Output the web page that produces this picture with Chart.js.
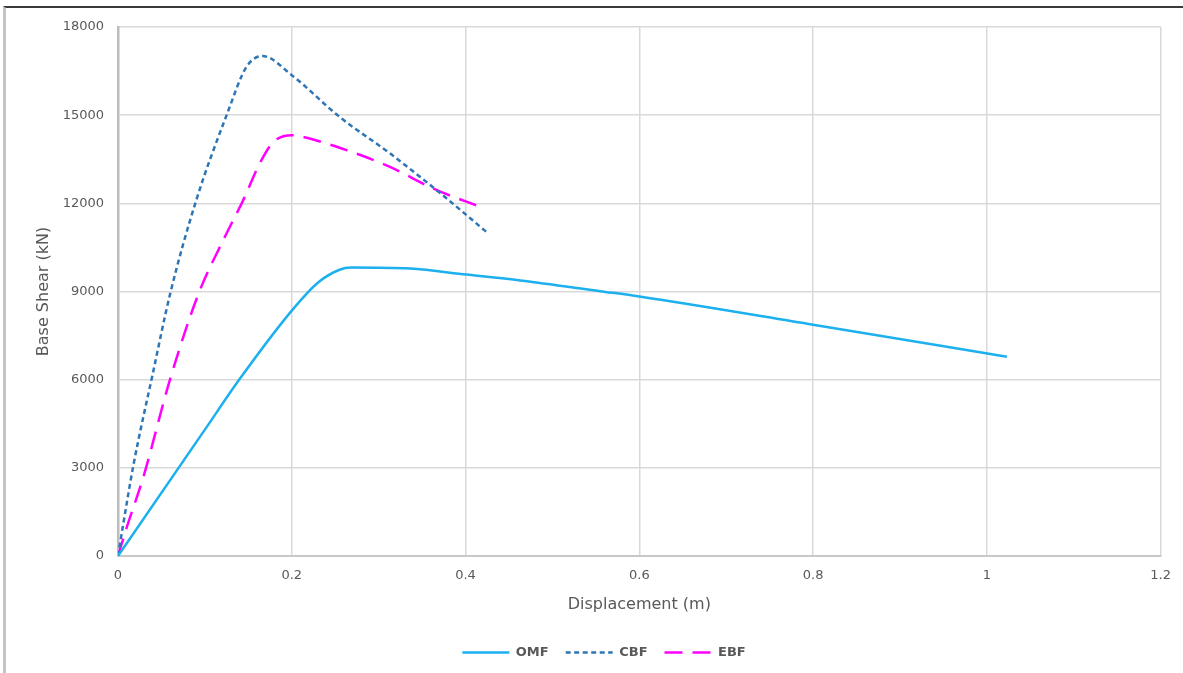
<!DOCTYPE html>
<html>
<head>
<meta charset="utf-8">
<title>Base Shear vs Displacement</title>
<script src="https://cdn.jsdelivr.net/npm/chart.js@4/dist/chart.umd.min.js"></script>
<style>
  html, body { margin: 0; padding: 0; background: #fff; }
  #wrap { position: relative; width: 1183px; height: 673px; overflow: hidden; }
  #frame {
    position: absolute; left: 3px; top: 6px; width: 1180px; height: 667px;
    border-top: 2px solid #3a3a3a; border-left: 3px solid #c4c4c4;
    box-sizing: border-box; pointer-events: none;
  }
</style>
</head>
<body>
<div id="wrap">
  <canvas id="chart" width="1183" height="673"></canvas>
  <div id="frame"></div>
</div>
<script>
// pushover curves
const omfX = [0, 0.1, 0.14, 0.2, 0.23, 0.255, 0.268, 0.336, 0.401, 0.463, 0.555, 0.6, 0.8, 1.023];
const omfY = [0, 4300, 6020, 8350, 9300, 9740, 9815, 9780, 9575, 9375, 9010, 8830, 7870, 6780];

const cbfX = [0, 0.006, 0.018, 0.04, 0.06, 0.09, 0.125, 0.148, 0.1665, 0.2, 0.255, 0.313, 0.374, 0.4243];
const cbfY = [0, 1080, 3130, 6200, 8920, 12100, 15000, 16650, 17010, 16360, 14940, 13700, 12270, 11020];

const ebfX = [0, 0.01, 0.029, 0.06, 0.093, 0.122, 0.144, 0.163, 0.179, 0.2, 0.213, 0.263, 0.313, 0.363, 0.4223];
const ebfY = [0, 965, 2670, 6020, 8950, 10800, 12100, 13350, 14090, 14320, 14260, 13810, 13240, 12500, 11820];

const xTickLabels = ['0', '0.2', '0.4', '0.6', '0.8', '1', '1.2'];
const yTickLabels = ['0', '3000', '6000', '9000', '12000', '15000', '18000'];

const txt = '#595959';
const gridColor = '#d9d9d9';

const toPoints = (xs, ys) => xs.map((x, i) => ({ x: x, y: ys[i] }));

const series = (label, xs, ys, color, dash) => ({
    label: label,
    data: toPoints(xs, ys),
    borderColor: color,
    backgroundColor: color,
    borderWidth: 2.5,
    borderDash: dash,
    pointRadius: 0,
    fill: false,
    cubicInterpolationMode: 'monotone',
});

// legend samples should carry the dash pattern of the line itself
const legendLabels = (chart) =>
    Chart.defaults.plugins.legend.labels.generateLabels(chart).map((item) => {
        const ds = chart.data.datasets[item.datasetIndex];
        item.lineDash = ds.borderDash;
        item.lineWidth = ds.borderWidth;
        item.strokeStyle = ds.borderColor;
        item.fillStyle = ds.borderColor;
        return item;
    });

new Chart(document.getElementById('chart'), {
    type: 'line',
    data: {
        datasets: [
            series('OMF', omfX, omfY, '#1cb0ee', []),
            series('CBF', cbfX, cbfY, '#2e75b6', [5, 3.5]),
            series('EBF', ebfX, ebfY, '#ff00ff', [18, 10]),
        ],
    },
    options: {
        responsive: false,
        animation: false,
        devicePixelRatio: 1,
        layout: { padding: { left: 47, right: 22, top: 27, bottom: 4 } },
        scales: {
            x: {
                type: 'linear',
                min: 0,
                max: 1.2,
                afterFit: (s) => { s.height = 73; },
                ticks: {
                    stepSize: 0.2,
                    padding: 12,
                    color: txt,
                    font: { family: 'DejaVu Sans', size: 13 },
                    callback: (v, i) => xTickLabels[i],
                },
                grid: { color: gridColor, lineWidth: 1.5, drawTicks: false },
                border: { color: '#c8c8c8', width: 2 },
                title: {
                    display: true,
                    text: 'Displacement (m)',
                    color: txt,
                    font: { family: 'DejaVu Sans', size: 16 },
                    padding: { top: 0, bottom: 14.4 },
                },
            },
            y: {
                min: 0,
                max: 18000,
                afterFit: (s) => { s.width = 71; },
                ticks: {
                    stepSize: 3000,
                    padding: 14,
                    color: txt,
                    font: { family: 'DejaVu Sans', size: 13 },
                    callback: (v, i) => yTickLabels[i],
                },
                grid: { color: gridColor, lineWidth: 1.5, drawTicks: false },
                border: { color: '#bcbcbc', width: 2.5 },
                title: {
                    display: true,
                    text: 'Base Shear (kN)',
                    color: txt,
                    font: { family: 'DejaVu Sans', size: 16 },
                    padding: { top: -12.6, bottom: 0 },
                },
            },
        },
        plugins: {
            legend: {
                position: 'bottom',
                labels: {
                    usePointStyle: true,
                    pointStyle: 'line',
                    pointStyleWidth: 47,
                    padding: 17,
                    color: txt,
                    font: { family: 'DejaVu Sans', size: 13, weight: 'bold' },
                    generateLabels: legendLabels,
                },
            },
            tooltip: { enabled: false },
        },
    },
});
</script>
</body>
</html>
